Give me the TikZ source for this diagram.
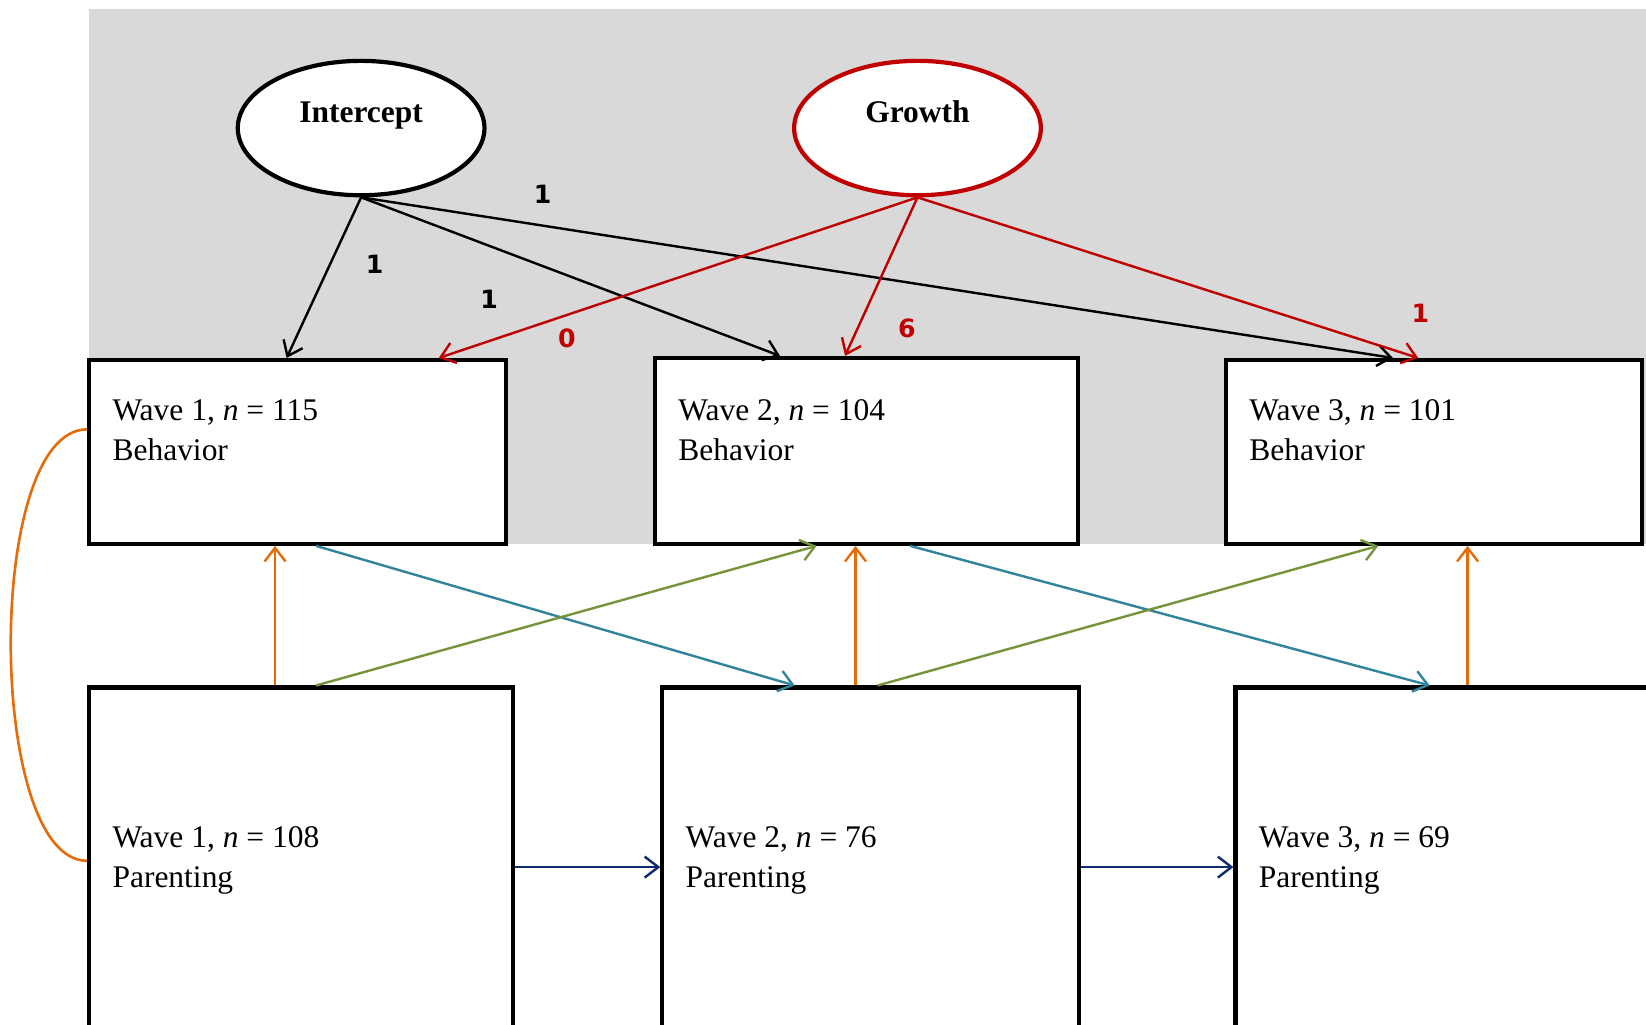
\documentclass[tikz,border=0pt]{standalone}
\usepackage{fontspec}
\setmainfont{Liberation Serif}
\newfontfamily\labfont{DejaVu Sans}
\usetikzlibrary{shapes.geometric,arrows.meta}
\definecolor{bggrey}{HTML}{D9D9D9}
\definecolor{gred}{HTML}{C00000}
\definecolor{orng}{HTML}{E46C0A}
\definecolor{teal2}{HTML}{31849B}
\definecolor{grn}{HTML}{77933C}
\definecolor{navy2}{HTML}{0F2A6E}
\begin{document}
\begin{tikzpicture}[x=1pt,y=-1pt,
  box/.style={rectangle, draw=black, line width=4pt, fill=white, inner sep=0pt},
  latent/.style={ellipse, line width=4pt, fill=white, minimum width=235pt, minimum height=128pt, inner sep=0pt},
  wtext/.style={font=\fontsize{30}{38}\selectfont, align=left, anchor=base west, inner sep=0pt},
  lvtext/.style={font=\fontsize{30}{36}\selectfont\bfseries, anchor=base, inner sep=0pt},
  coef/.style={font=\fontsize{24}{28}\selectfont\labfont\bfseries, inner sep=0pt},
  conn/.style={line width=2.3pt, -{Straight Barb[length=13pt,width=20pt,line width=2.3pt]}},
  blk/.style={conn, draw=black},
  redc/.style={conn, draw=gred},
  orc/.style={conn, draw=orng},
  tlc/.style={conn, draw=teal2},
  grc/.style={conn, draw=grn},
  nvc/.style={conn, draw=navy2}
]
\useasboundingbox (0,0) rectangle (1568,976);
\clip (0,0) rectangle (1568,976);
\fill[bggrey] (85,9) rectangle (1568,518);

% latent variables
\node[latent, draw=black] (I) at (344,122) {};
\node[lvtext] (It) at (344,117) {Intercept};
\node[latent, draw=gred] (G) at (874,122) {};
\node[lvtext] (Gt) at (874,117) {Growth};

% behavior boxes
\node[box, minimum width=397pt, minimum height=175pt] (B1) at (283.5,430.5) {};
\node[box, minimum width=403pt, minimum height=177pt] (B2) at (825.5,429.5) {};
\node[box, minimum width=396pt, minimum height=175pt] (B3) at (1366,430.5) {};
\node[wtext] (tB1) at (107,439) {Wave 1, \textit{n} = 115\\Behavior};
\node[wtext] (tB2) at (646,439) {Wave 2, \textit{n} = 104\\Behavior};
\node[wtext] (tB3) at (1190,439) {Wave 3, \textit{n} = 101\\Behavior};

% parenting boxes
\node[box, minimum width=404pt, minimum height=360pt] (P1) at (287,835) {};
\node[box, minimum width=397pt, minimum height=360pt] (P2) at (829.5,835) {};
\node[box, minimum width=503pt, minimum height=360pt] (P3) at (1428.5,835) {};
\node[wtext] (tP1) at (107,845) {Wave 1, \textit{n} = 108\\Parenting};
\node[wtext] (tP2) at (653,845) {Wave 2, \textit{n} = 76\\Parenting};
\node[wtext] (tP3) at (1199,845) {Wave 3, \textit{n} = 69\\Parenting};

% loadings
\draw[blk] (I.south) -- ([xshift=-10.5pt]B1.north);
\draw[blk] (I.south) -- ([xshift=-82.5pt]B2.north);
\draw[blk] (I.south) -- ([xshift=-39pt]B3.north);
\draw[redc] (G.south) -- ([xshift=134.5pt]B1.north);
\draw[redc] (G.south) -- ([xshift=-20.5pt]B2.north);
\draw[redc] (G.south) -- ([xshift=-15pt]B3.north);

\node[coef] (c1) at (357,252) {1};
\node[coef] (c2) at (466,285) {1};
\node[coef] (c3) at (517,185) {1};
\node[coef, text=gred] (c4) at (540,322) {0};
\node[coef, text=gred] (c5) at (864,313) {6};
\node[coef, text=gred] (c6) at (1353,298) {1};

% contemporaneous
\draw[orc] ([xshift=-25pt]P1.north) -- ([xshift=-21.5pt]B1.south);
\draw[orc] ([xshift=-14.5pt]P2.north) -- ([xshift=-10.5pt]B2.south);
\draw[orc] ([xshift=-30.5pt]P3.north) -- ([xshift=32pt]B3.south);

% cross-lagged
\draw[tlc] ([xshift=17.5pt]B1.south) -- ([xshift=-72.5pt]P2.north);
\draw[tlc] ([xshift=41.5pt]B2.south) -- ([xshift=-66.5pt]P3.north);
\draw[grc] ([xshift=14pt]P1.north) -- ([xshift=-47.5pt]B2.south);
\draw[grc] ([xshift=6.5pt]P2.north) -- ([xshift=-53pt]B3.south);

% autoregressive
\draw[nvc] ([yshift=9pt]P1.east) -- ([yshift=9pt]P2.west);
\draw[nvc] ([yshift=9pt]P2.east) -- ([yshift=9pt]P3.west);

% covariance
\draw[orng, line width=2.5pt] ([yshift=21.5pt]B1.west) .. controls +(-98,0) and +(-96,0) .. ([yshift=-167pt]P1.north west);
\end{tikzpicture}
\end{document}
